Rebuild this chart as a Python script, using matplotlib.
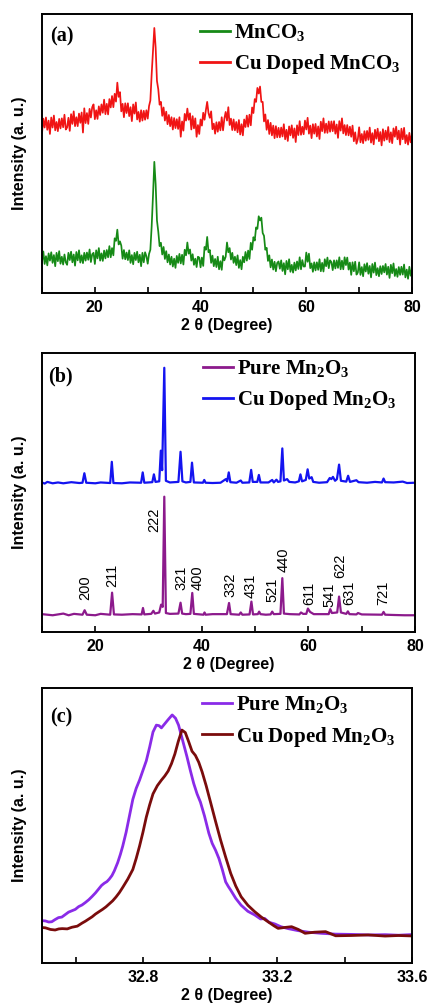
import numpy as np
import matplotlib
matplotlib.use("Agg")
import matplotlib.pyplot as plt
from matplotlib.ticker import MultipleLocator

# ---------------- (a) carbonate precursors, 2θ sampled every 0.25° ----------------
two_theta_a = np.arange(9.75, 80.26, 0.25)
mnco3 = [
    13.9, 11.2, 14.9, 10.4, 13.2, 9.9, 14.2, 11.6, 14.6, 10.8, 13.6, 9.6, 14.4, 11.4, 15.0, 10.5, 13.0, 10.2, 13.8, 11.0,
    10.1, 14.4, 11.8, 14.8, 11.0, 13.8, 9.8, 14.7, 11.7, 15.3, 10.9, 13.5, 10.7, 14.4, 11.6, 14.5, 11.9, 15.6, 11.1, 13.9,
    14.4, 10.4, 15.3, 12.4, 16.1, 11.6, 14.2, 11.5, 15.2, 12.4, 15.4, 12.8, 16.8, 12.8, 16.1, 13.5, 19.6, 18.7, 22.7, 17.4,
    18.5, 17.0, 12.3, 15.4, 12.1, 14.5, 11.8, 15.3, 10.8, 13.6, 10.3, 14.4, 11.8, 14.8, 11.0, 13.7, 9.6, 14.4, 11.0, 14.6,
    13.2, 10.5, 14.0, 15.5, 24.0, 35.0, 47.0, 39.0, 26.0, 22.0, 16.8, 18.0, 13.8, 16.5, 12.2, 15.0, 11.0, 13.8, 10.2, 13.0,
    9.5, 12.3, 9.0, 13.3, 10.8, 14.0, 10.6, 13.7, 10.2, 15.5, 13.5, 18.1, 14.1, 15.6, 11.6, 13.9, 10.1, 12.3, 9.3, 13.0,
    12.7, 9.2, 12.7, 9.7, 16.5, 15.5, 20.1, 14.6, 15.4, 10.8, 13.4, 9.6, 12.2, 9.3, 13.0, 8.5, 11.4, 8.3, 13.3, 11.7,
    13.0, 18.1, 14.6, 16.1, 12.0, 14.4, 10.8, 13.0, 10.0, 13.5, 9.0, 11.8, 8.5, 13.0, 11.0, 14.7, 11.6, 15.2, 12.2, 18.0,
    15.5, 20.0, 18.8, 23.5, 23.0, 27.5, 26.0, 27.0, 21.5, 20.5, 15.5, 16.2, 11.5, 13.5, 9.2, 12.0, 8.4, 11.2, 7.8, 10.8,
    11.3, 8.7, 11.7, 7.9, 10.7, 6.7, 11.5, 8.5, 12.1, 7.6, 10.1, 7.3, 10.9, 8.1, 11.3, 8.6, 12.8, 8.5, 11.8, 9.5,
    9.5, 14.5, 11.2, 14.1, 8.9, 10.6, 7.6, 11.0, 8.1, 11.0, 8.3, 12.1, 7.8, 10.8, 7.7, 12.1, 9.6, 12.7, 8.9, 11.7,
    11.1, 8.2, 11.7, 8.8, 11.7, 9.0, 12.8, 8.5, 11.6, 8.5, 12.8, 10.0, 12.7, 8.4, 10.9, 6.5, 11.0, 7.8, 11.2, 6.6,
    7.3, 11.0, 6.5, 9.3, 6.0, 10.3, 7.7, 10.7, 6.9, 9.7, 5.6, 10.4, 7.3, 10.9, 6.4, 8.9, 6.0, 9.6, 6.8, 9.7,
    7.4, 10.4, 6.6, 9.4, 5.4, 10.1, 7.1, 10.6, 6.1, 8.6, 5.8, 9.3, 6.5, 9.4, 6.6, 10.2, 5.6, 8.4, 5.1, 9.4,
    6.2, 8.8, 7.0,
]
cu_mnco3 = [
    61.2, 57.2, 62.5, 59.3, 62.9, 58.5, 61.8, 57.0, 62.9, 59.3, 63.6, 58.3, 61.3, 58.0, 62.4, 59.0, 62.6, 59.4, 63.9, 58.6,
    59.3, 62.8, 58.1, 64.1, 60.6, 65.1, 59.8, 63.0, 59.8, 64.3, 61.0, 64.7, 57.5, 66.2, 60.9, 64.5, 60.6, 66.0, 62.9, 66.6,
    67.6, 62.3, 65.5, 62.4, 66.9, 63.8, 67.6, 64.6, 69.3, 64.1, 67.8, 64.0, 69.5, 66.5, 70.6, 66.6, 71.4, 68.6, 75.4, 70.3,
    72.0, 65.1, 67.8, 63.0, 68.0, 64.5, 68.0, 63.4, 66.6, 61.6, 67.6, 64.3, 68.3, 62.2, 64.9, 61.4, 65.5, 61.8, 65.3, 62.1,
    65.5, 62.5, 67.0, 69.0, 78.5, 87.0, 95.0, 88.0, 76.0, 73.0, 67.5, 68.5, 63.5, 66.5, 61.8, 65.0, 60.5, 63.8, 59.8, 63.0,
    58.6, 62.7, 59.1, 62.3, 58.8, 63.0, 56.0, 61.5, 58.2, 64.2, 61.8, 66.1, 62.1, 64.4, 58.6, 63.4, 59.0, 62.6, 56.0, 60.2,
    57.0, 62.2, 60.0, 64.6, 62.1, 65.5, 68.5, 64.5, 62.8, 65.1, 58.7, 60.7, 57.1, 61.2, 57.8, 61.3, 58.3, 63.0, 58.3, 62.5,
    64.9, 61.8, 66.6, 60.2, 62.5, 58.4, 62.2, 58.3, 61.3, 57.6, 62.0, 56.8, 60.5, 56.5, 62.2, 59.5, 63.6, 59.6, 63.9, 60.1,
    66.5, 64.5, 69.5, 68.5, 73.5, 71.5, 74.0, 68.5, 68.5, 61.5, 64.0, 58.5, 62.0, 57.0, 61.0, 56.5, 60.0, 55.5, 59.8, 55.8,
    59.2, 55.8, 59.3, 56.1, 60.5, 55.1, 58.5, 54.5, 59.7, 56.5, 60.1, 55.6, 59.0, 54.1, 60.1, 56.6, 61.6, 56.7, 59.6, 56.9,
    61.8, 58.6, 62.8, 57.1, 60.0, 55.5, 60.5, 57.1, 60.6, 56.1, 59.7, 55.2, 61.4, 58.0, 62.6, 57.4, 60.7, 57.4, 61.5, 57.8,
    61.5, 58.0, 61.6, 57.1, 60.4, 55.6, 61.6, 58.2, 62.6, 57.2, 60.2, 56.6, 60.2, 56.5, 59.6, 56.0, 60.0, 54.4, 57.6, 53.5,
    55.1, 59.4, 54.0, 57.0, 53.7, 58.0, 54.6, 58.1, 54.9, 59.3, 53.9, 57.3, 53.3, 58.5, 55.3, 58.9, 54.4, 57.7, 52.9, 58.7,
    54.6, 58.2, 55.0, 59.5, 54.1, 57.6, 53.7, 59.0, 56.0, 59.6, 55.1, 58.2, 53.2, 58.9, 55.1, 59.2, 53.7, 56.6, 53.2, 57.4,
    54.0, 57.0, 55.0,
]

# ---------------- (b) calcined oxides, (2θ, intensity) ----------------
pure_mn2o3 = [
    (10, 6.4), (12, 6.0), (14, 6.6), (15, 6.0), (16, 6.5), (17.6, 6.2), (18.0, 7.8),
    (18.4, 6.2), (20, 6.0), (21, 6.5), (22.8, 6.2), (23.15, 14.1), (23.5, 6.3),
    (25, 6.2), (27, 6.4), (28.7, 6.3), (28.95, 8.6), (29.2, 6.3), (30.5, 6.5),
    (30.9, 7.6), (31.2, 6.6), (32.0, 7.0), (32.35, 9.8), (32.65, 9.0), (32.95, 48.5),
    (33.25, 6.8), (34, 6.5), (35.6, 6.6), (36.0, 10.5), (36.3, 6.6), (37.0, 6.4),
    (37.85, 6.5), (38.2, 14.0), (38.5, 6.5), (40.3, 6.2), (40.5, 7.0), (40.7, 6.2),
    (42, 6.4), (44.7, 6.4), (45.1, 10.4), (45.4, 6.4), (47, 6.2), (47.3, 7.0),
    (47.6, 6.2), (48.95, 6.3), (49.3, 10.9), (49.6, 6.3), (50.5, 6.4), (50.75, 7.3),
    (51, 6.4), (52, 6.2), (52.9, 6.3), (53.2, 7.3), (53.5, 6.4), (54.75, 6.5),
    (55.1, 19.3), (55.4, 6.6), (56.5, 6.4), (58.3, 6.3), (58.6, 7.0), (59, 6.5),
    (59.6, 6.5), (59.9, 8.4), (60.3, 7.2), (61, 6.4), (63.8, 6.4), (64.1, 8.2),
    (64.4, 6.8), (65.4, 7.0), (65.75, 12.7), (66.1, 7.0), (67.1, 6.5), (67.4, 7.4),
    (67.7, 6.4), (69, 6.3), (69.3, 6.8), (70, 6.3), (73.8, 6.2), (74.1, 7.2),
    (74.4, 6.2), (76, 6.1), (78, 6.0), (80, 6.0),
]
cu_mn2o3 = [
    (10, 53.6), (10.5, 53.2), (11, 53.8), (12, 53.3), (13, 53.6), (14, 53.3),
    (15.5, 53.7), (17, 53.4), (17.6, 53.5), (17.95, 56.9), (18.3, 53.5), (20, 53.3),
    (21, 53.6), (22.8, 53.4), (23.1, 61.0), (23.4, 53.4), (25, 53.3), (26.5, 53.6),
    (28.6, 53.5), (28.9, 57.2), (29.2, 53.5), (30.7, 53.7), (31.0, 56.5), (31.3, 53.8),
    (32.0, 54.0), (32.3, 65.0), (32.55, 58.0), (32.95, 94.7), (33.25, 54.2), (34, 53.6),
    (35.6, 53.8), (36.0, 64.6), (36.35, 54.0), (37.0, 53.6), (37.85, 53.8), (38.15, 60.7),
    (38.5, 53.6), (40.2, 53.5), (40.45, 54.5), (40.7, 53.5), (42, 53.4), (43.5, 53.5),
    (44.5, 54.8), (44.75, 54.0), (45.05, 57.2), (45.35, 53.7), (46.5, 53.5), (47.3, 54.3),
    (47.6, 53.5), (48.9, 53.6), (49.25, 58.1), (49.55, 53.8), (50.4, 53.8), (50.7, 56.3),
    (51.0, 53.6), (52.5, 53.6), (53.2, 54.5), (53.5, 53.6), (54.0, 54.6), (54.3, 53.8),
    (54.75, 54.0), (55.1, 65.8), (55.4, 54.3), (56.0, 54.8), (56.4, 53.8), (57.5, 53.6),
    (58.2, 54.0), (58.5, 56.5), (58.8, 54.0), (59.5, 54.5), (59.85, 58.3), (60.15, 55.0),
    (60.6, 55.5), (60.9, 53.8), (62, 53.5), (63.5, 53.7), (64.0, 55.2), (64.3, 54.8),
    (64.6, 55.6), (65.0, 54.2), (65.35, 54.8), (65.75, 60.0), (66.1, 54.2), (67.1, 53.9),
    (67.45, 56.0), (67.8, 53.8), (69.0, 54.4), (69.4, 53.7), (71, 53.5), (72.5, 53.8),
    (73.8, 53.6), (74.1, 55.0), (74.4, 53.7), (76, 53.6), (77.7, 53.9), (78.5, 53.4),
    (80, 53.5),
]
hkl_labels = ["200", "211", "222", "321", "400", "332", "431",
              "521", "440", "611", "541", "622", "631", "721"]
hkl_label_x = [18.2, 23.2, 31.1, 36.1, 39.2, 45.4, 49.2,
               53.2, 55.4, 60.1, 64.0, 65.9, 67.7, 74.1]
hkl_label_y = [11.5, 16.2, 36.0, 15.1, 15.1, 12.7, 12.1,
               10.9, 21.6, 9.7, 9.1, 19.2, 9.7, 9.7]

# ---------------- (c) the (222) reflection ----------------
pure_222 = [
    (32.489, 15.0), (32.50, 15.4), (32.51, 15.3), (32.52, 14.9), (32.529, 15.0),
    (32.539, 15.8), (32.549, 16.5), (32.559, 16.7), (32.569, 17.6), (32.579, 18.5),
    (32.589, 19.0), (32.599, 19.5), (32.609, 20.5), (32.619, 21.1), (32.629, 22.0),
    (32.639, 23.0), (32.649, 24.2), (32.659, 25.5), (32.669, 27.0), (32.677, 28.2),
    (32.685, 29.0), (32.693, 29.6), (32.700, 30.5), (32.708, 31.8), (32.715, 33.5),
    (32.725, 36.5), (32.733, 39.5), (32.740, 42.5), (32.750, 47.5), (32.760, 53.5),
    (32.770, 59.5), (32.780, 63.5), (32.790, 66.5), (32.800, 70.0), (32.810, 73.5),
    (32.820, 78.5), (32.830, 84.0), (32.840, 86.5), (32.848, 86.3), (32.855, 85.5),
    (32.865, 87.0), (32.875, 88.5), (32.887, 90.2), (32.897, 89.0), (32.906, 86.5),
    (32.918, 81.0), (32.931, 75.0), (32.941, 70.0), (32.951, 65.3), (32.961, 61.5),
    (32.971, 58.5), (32.983, 53.5), (32.996, 47.2), (33.006, 43.5), (33.016, 41.0),
    (33.026, 38.0), (33.036, 34.0), (33.046, 29.5), (33.054, 27.8), (33.061, 26.5),
    (33.076, 23.5), (33.092, 21.0), (33.112, 18.8), (33.132, 17.5), (33.150, 16.0),
    (33.162, 16.2), (33.175, 14.8), (33.192, 14.2), (33.21, 13.2), (33.232, 12.5),
    (33.26, 11.8), (33.292, 11.2), (33.33, 10.8), (33.373, 10.5), (33.42, 10.4),
    (33.473, 10.2), (33.52, 10.3), (33.56, 10.1), (33.61, 10.4),
]
cu_222 = [
    (32.489, 12.6), (32.50, 12.9), (32.51, 12.8), (32.525, 12.2), (32.539, 12.0),
    (32.55, 12.4), (32.56, 12.5), (32.575, 12.4), (32.589, 13.0), (32.605, 13.4),
    (32.619, 14.5), (32.629, 15.2), (32.639, 16.0), (32.649, 16.8), (32.659, 17.8),
    (32.67, 18.7), (32.68, 19.5), (32.69, 20.4), (32.700, 21.5), (32.71, 22.6),
    (32.72, 24.0), (32.730, 25.6), (32.740, 27.5), (32.755, 30.5), (32.770, 34.0),
    (32.780, 38.0), (32.790, 42.5), (32.800, 47.5), (32.810, 53.0), (32.820, 57.5),
    (32.830, 61.5), (32.843, 64.5), (32.855, 66.5), (32.865, 68.0), (32.875, 69.8),
    (32.885, 72.5), (32.895, 76.0), (32.905, 80.5), (32.916, 84.7), (32.926, 83.8),
    (32.936, 80.5), (32.946, 77.0), (32.956, 75.5), (32.966, 73.0), (32.976, 69.5),
    (32.988, 64.5), (33.001, 58.5), (33.016, 51.5), (33.031, 44.7), (33.046, 38.5),
    (33.061, 32.6), (33.076, 28.0), (33.092, 24.1), (33.112, 21.0), (33.132, 18.7),
    (33.152, 16.7), (33.172, 15.0), (33.19, 13.5), (33.202, 12.6), (33.22, 12.9),
    (33.242, 13.2), (33.262, 12.2), (33.282, 10.8), (33.31, 11.2), (33.343, 11.4),
    (33.373, 9.9), (33.42, 10.0), (33.47, 10.2), (33.52, 9.8), (33.56, 10.0),
    (33.61, 9.8),
]

# ---------------- styling ----------------
plt.rcParams["font.family"] = ["Liberation Sans", "DejaVu Sans"]
plt.rcParams["mathtext.fontset"] = "custom"
plt.rcParams["mathtext.rm"] = "Liberation Serif:bold"
plt.rcParams["mathtext.it"] = "Liberation Serif:bold"
plt.rcParams["mathtext.bf"] = "Liberation Serif:bold"

SERIF = {"family": "Liberation Serif", "weight": "bold", "size": 15}
GREEN, RED = "#168a16", "#f01414"
PURPLE, BLUE = "#8c1a8c", "#1414f0"
VIOLET, MAROON = "#8a2be8", "#7a0c0c"

fig = plt.figure(figsize=(4.28, 10.08), dpi=100)
W, H = 428.0, 1008.0


def make_axes(left, top, right, bottom):
    return fig.add_axes([left / W, 1 - bottom / H, (right - left) / W, (bottom - top) / H])


def style(ax, xlim, major, minor):
    ax.set_xlim(*xlim)
    ax.set_ylim(0, 100)
    ax.set_yticks([])
    ax.xaxis.set_major_locator(MultipleLocator(major))
    ax.xaxis.set_minor_locator(MultipleLocator(minor))
    ax.tick_params(axis="x", which="both", direction="in", length=4.5, width=1.2,
                   labelsize=11.5, pad=5)
    for sp in ax.spines.values():
        sp.set_linewidth(1.4)
    ax.set_xlabel("2 θ (Degree)", fontsize=11.5, fontweight="bold", labelpad=2)
    ax.set_ylabel("Intensity (a. u.)", fontsize=11.5, fontweight="bold", labelpad=11)


def bold_ticks(ax):
    for lab in ax.get_xticklabels():
        lab.set_fontweight("bold")


def add_legend(ax, x_anchor, y_anchor):
    leg = ax.legend(loc="upper left", bbox_to_anchor=(x_anchor, y_anchor), frameon=False,
                    prop=SERIF, handlelength=1.45, handletextpad=0.18,
                    labelspacing=0.45, borderaxespad=0, borderpad=0)
    for line in leg.get_lines():
        line.set_linewidth(2.0)
    return leg


def panel_tag(ax, x, y, tag):
    ax.text(x, y, tag, transform=ax.transAxes, ha="left", va="top",
            fontdict={"family": "Liberation Serif", "weight": "bold", "size": 14.5})


# (a)
ax_a = make_axes(42, 14, 412, 293)
ax_a.plot(two_theta_a, mnco3, color=GREEN, lw=1.25, label=r"MnCO$_3$")
ax_a.plot(two_theta_a, cu_mnco3, color=RED, lw=1.25, label=r"Cu Doped MnCO$_3$")
style(ax_a, (10, 80), 20, 10)
bold_ticks(ax_a)
add_legend(ax_a, 0.427, 0.971)
panel_tag(ax_a, 0.022, 0.955, "(a)")

# (b)
ax_b = make_axes(42, 353, 415, 632)
bx, by = zip(*pure_mn2o3)
ax_b.plot(bx, by, color=PURPLE, lw=1.6, label=r"Pure Mn$_2$O$_3$")
cx, cy = zip(*cu_mn2o3)
ax_b.plot(cx, cy, color=BLUE, lw=1.6, label=r"Cu Doped Mn$_2$O$_3$")
style(ax_b, (10, 80), 20, 10)
bold_ticks(ax_b)
add_legend(ax_b, 0.432, 0.982)
panel_tag(ax_b, 0.016, 0.95, "(b)")
for lab, lx, ly in zip(hkl_labels, hkl_label_x, hkl_label_y):
    ax_b.text(lx, ly, lab, rotation=90, ha="center", va="bottom", fontsize=10.5)

# (c)
ax_c = make_axes(42, 688, 412, 963)
px, py = zip(*pure_222)
ax_c.plot(px, py, color=VIOLET, lw=2.0, label=r"Pure Mn$_2$O$_3$")
qx, qy = zip(*cu_222)
ax_c.plot(qx, qy, color=MAROON, lw=2.0, label=r"Cu Doped Mn$_2$O$_3$")
style(ax_c, (32.5, 33.6), 0.4, 0.2)
ax_c.xaxis.set_major_locator(plt.FixedLocator([32.8, 33.2, 33.6]))
ax_c.xaxis.set_minor_locator(plt.FixedLocator([32.6, 33.0, 33.4]))
ax_c.xaxis.set_major_formatter("{x:.1f}")
bold_ticks(ax_c)
add_legend(ax_c, 0.432, 0.977)
panel_tag(ax_c, 0.022, 0.93, "(c)")

fig.savefig("out.png", dpi=100)
